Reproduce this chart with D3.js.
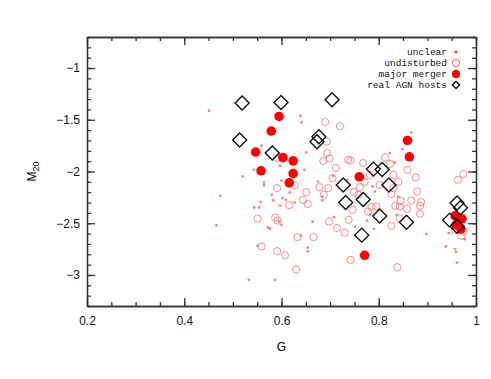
<!DOCTYPE html>
<html>
<head>
<meta charset="utf-8">
<script src="https://cdn.jsdelivr.net/npm/d3@7"></script>
<style>
  body { margin: 0; background: #fff; }
  .axis path, .axis line { stroke: #333; stroke-width: 1.3; }
  .axis text { font-family: "Liberation Sans", sans-serif; font-size: 12px; fill: #111; }
  .legend text { font-family: "Liberation Mono", monospace; font-size: 9.5px; fill: #111; }
</style>
</head>
<body>
<div id="chart"></div>
<script>
// G and M20 values

// unclear (small dots)
var unclearG = [0.451, 0.639, 0.641, 0.559, 0.651, 0.597, 0.647, 0.543, 0.520, 0.564,
  0.564, 0.600, 0.474, 0.580, 0.583, 0.597, 0.557, 0.544, 0.554, 0.609,
  0.627, 0.617, 0.602, 0.595, 0.600, 0.572, 0.576, 0.466, 0.664, 0.640,
  0.551, 0.654, 0.654, 0.533, 0.587, 0.675, 0.684, 0.735, 0.867, 0.849,
  0.706, 0.792, 0.787, 0.833, 0.751, 0.790, 0.898, 0.938, 0.957, 0.959,
  0.944, 0.776, 0.961, 0.977, 0.684, 0.708, 0.823, 0.840, 0.782, 0.837];
var unclearM20 = [-1.413, -1.461, -1.526, -1.751, -1.816, -1.945, -1.984, -1.984, -2.048, -2.106,
  -2.135, -2.087, -2.235, -2.225, -2.280, -2.329, -2.296, -2.348, -2.348, -2.274,
  -2.300, -2.203, -2.257, -2.484, -2.515, -2.542, -2.551, -2.522, -2.484, -2.619,
  -2.719, -2.735, -2.774, -3.047, -3.047, -2.097, -2.242, -2.080, -1.623, -1.783,
  -2.042, -2.193, -2.145, -1.913, -2.532, -2.554, -2.605, -2.725, -2.750, -2.779,
  -2.596, -2.474, -2.880, -2.654, -2.280, -2.441, -1.822, -2.242, -2.419, -2.419];

// undisturbed (open circles)
var undistG = [0.690, 0.720, 0.693, 0.694, 0.699, 0.686, 0.737, 0.712, 0.591, 0.591,
  0.627, 0.651, 0.678, 0.705, 0.696, 0.687, 0.644, 0.616, 0.654, 0.551,
  0.587, 0.592, 0.633, 0.666, 0.698, 0.714, 0.730, 0.559, 0.591, 0.607,
  0.630, 0.738, 0.974, 0.963, 0.742, 0.768, 0.813, 0.823, 0.859, 0.876,
  0.840, 0.782, 0.771, 0.749, 0.761, 0.758, 0.826, 0.879, 0.845, 0.867,
  0.887, 0.834, 0.843, 0.858, 0.885, 0.746, 0.785, 0.885, 0.826, 0.843,
  0.957, 0.974, 0.970, 0.742, 0.838, 0.802, 0.830, 0.830, 0.795, 0.778];
var undistM20 = [-1.522, -1.561, -1.710, -1.822, -1.874, -1.897, -1.887, -1.967, -1.870, -2.161,
  -2.135, -2.199, -2.151, -2.064, -2.161, -2.225, -2.274, -2.325, -2.315, -2.455,
  -2.445, -2.474, -2.634, -2.634, -2.484, -2.545, -2.590, -2.725, -2.770, -2.809,
  -2.948, -2.467, -2.025, -2.080, -1.894, -1.919, -1.865, -1.926, -1.984, -2.058,
  -2.100, -2.035, -2.100, -2.199, -2.151, -2.225, -2.219, -2.193, -2.283, -2.280,
  -2.296, -2.332, -2.338, -2.361, -2.332, -2.370, -2.344, -2.409, -2.525, -2.451,
  -2.564, -2.580, -2.622, -2.854, -2.925, -2.129, -2.032, -2.161, -2.338, -2.387];

// major merger (filled circles)
var mergerG = [0.595, 0.579, 0.547, 0.603, 0.624, 0.558, 0.624, 0.616, 0.859, 0.863,
  0.760, 0.771, 0.957, 0.971, 0.959, 0.969];
var mergerM20 = [-1.468, -1.609, -1.812, -1.865, -1.897, -1.993, -2.020, -2.110, -1.700, -1.858,
  -2.051, -2.810, -2.428, -2.457, -2.515, -2.556];

// real AGN hosts (diamonds)
var agnG = [0.519, 0.599, 0.704, 0.514, 0.581, 0.677, 0.673, 0.789, 0.807, 0.727,
  0.821, 0.732, 0.768, 0.802, 0.857, 0.765, 0.961, 0.968, 0.946, 0.961];
var agnM20 = [-1.338, -1.333, -1.307, -1.696, -1.822, -1.664, -1.713, -1.977, -1.980, -2.130,
  -2.130, -2.300, -2.270, -2.430, -2.490, -2.615, -2.305, -2.350, -2.470, -2.530];

var xTicks = [0.2, 0.4, 0.6, 0.8, 1];
var yTicks = [-3, -2.5, -2, -1.5, -1];
var legendLabels = ["unclear", "undisturbed", "major merger", "real AGN hosts"];

var W = 491, H = 379;
var margin = {top: 37, right: 15, bottom: 73, left: 87};
var width = W - margin.left - margin.right,
    height = H - margin.top - margin.bottom;

var svg = d3.select("#chart").append("svg")
    .attr("width", W)
    .attr("height", H)
    .append("g")
    .attr("transform", "translate(" + margin.left + "," + margin.top + ")");

var x = d3.scaleLinear().domain([0.2, 1]).range([0, width]);
var y = d3.scaleLinear().domain([-3.3, -0.7]).range([height, 0]);

var fmt = function(d) { return d3.format("")(d).replace("-", "\u2212"); };
var xMinor = d3.range(0.2, 1.001, 0.05);
var yMinor = d3.range(-3.3, -0.699, 0.1);

// minor ticks on all four sides
svg.append("g").attr("class", "axis").attr("transform", "translate(0," + height + ")")
    .call(d3.axisBottom(x).tickValues(xMinor).tickSize(-4).tickSizeOuter(0).tickFormat(""));
svg.append("g").attr("class", "axis")
    .call(d3.axisTop(x).tickValues(xMinor).tickSize(-4).tickSizeOuter(0).tickFormat(""));
svg.append("g").attr("class", "axis")
    .call(d3.axisLeft(y).tickValues(yMinor).tickSize(-4).tickSizeOuter(0).tickFormat(""));
svg.append("g").attr("class", "axis").attr("transform", "translate(" + width + ",0)")
    .call(d3.axisRight(y).tickValues(yMinor).tickSize(-4).tickSizeOuter(0).tickFormat(""));

// major ticks
svg.append("g").attr("class", "axis").attr("transform", "translate(0," + height + ")")
    .call(d3.axisBottom(x).tickValues(xTicks).tickSize(-8).tickSizeOuter(0).tickPadding(10).tickFormat(fmt));
svg.append("g").attr("class", "axis")
    .call(d3.axisTop(x).tickValues(xTicks).tickSize(-8).tickSizeOuter(0).tickFormat(""));
svg.append("g").attr("class", "axis")
    .call(d3.axisLeft(y).tickValues(yTicks).tickSize(-8).tickSizeOuter(0).tickPadding(7).tickFormat(fmt));
svg.append("g").attr("class", "axis").attr("transform", "translate(" + width + ",0)")
    .call(d3.axisRight(y).tickValues(yTicks).tickSize(-8).tickSizeOuter(0).tickFormat(""));

// axis labels
svg.append("text")
    .attr("x", x(0.6))
    .attr("y", height + 45)
    .style("text-anchor", "middle")
    .style("font-family", "Liberation Sans, sans-serif")
    .style("font-size", "12px")
    .text("G");

var yl = svg.append("text")
    .attr("transform", "translate(-51," + y(-2) + ") rotate(-90)")
    .style("text-anchor", "middle")
    .style("font-family", "Liberation Sans, sans-serif")
    .style("font-size", "12px");
yl.append("tspan").text("M");
yl.append("tspan").attr("dy", 3).style("font-size", "9px").text("20");

// data marks
var unclear = unclearG.map(function(g, i) { return {g: g, m: unclearM20[i]}; });
var undist = undistG.map(function(g, i) { return {g: g, m: undistM20[i]}; });
var merger = mergerG.map(function(g, i) { return {g: g, m: mergerM20[i]}; });
var agn = agnG.map(function(g, i) { return {g: g, m: agnM20[i]}; });

svg.append("g").selectAll("circle")
    .data(undist).enter().append("circle")
    .attr("cx", function(d) { return x(d.g); })
    .attr("cy", function(d) { return y(d.m); })
    .attr("r", 3.6)
    .style("fill", "none")
    .style("stroke", "#ff5a5a")
    .style("stroke-opacity", 0.7)
    .style("stroke-width", 1);

svg.append("g").selectAll("circle")
    .data(unclear).enter().append("circle")
    .attr("cx", function(d) { return x(d.g); })
    .attr("cy", function(d) { return y(d.m); })
    .attr("r", 1.4)
    .style("fill", "#ff6060")
    .style("fill-opacity", 0.8);

svg.append("g").selectAll("circle")
    .data(merger).enter().append("circle")
    .attr("cx", function(d) { return x(d.g); })
    .attr("cy", function(d) { return y(d.m); })
    .attr("r", 4.8)
    .style("fill", "#ff0000");

var diamond = function(cx, cy, s) {
    return "M" + cx + "," + (cy - s) + "L" + (cx + s) + "," + cy + "L" + cx + "," + (cy + s) + "L" + (cx - s) + "," + cy + "Z";
};

svg.append("g").selectAll("path")
    .data(agn).enter().append("path")
    .attr("d", function(d) { return diamond(x(d.g), y(d.m), 7); })
    .style("fill", "none")
    .style("stroke", "#111")
    .style("stroke-width", 1.4);

// legend
var legend = svg.append("g").attr("class", "legend");
legendLabels.forEach(function(lab, i) {
    var ly = 15 + i * 11;
    legend.append("text")
        .attr("x", 360)
        .attr("y", ly + 3.3)
        .style("text-anchor", "end")
        .text(lab);
    var sx = 369;
    if (i == 0) {
        legend.append("circle").attr("cx", sx).attr("cy", ly).attr("r", 1.6).style("fill", "#ff4040");
    } else if (i == 1) {
        legend.append("circle").attr("cx", sx).attr("cy", ly).attr("r", 3.6)
            .style("fill", "none").style("stroke", "#ff5a5a").style("stroke-width", 1);
    } else if (i == 2) {
        legend.append("circle").attr("cx", sx).attr("cy", ly).attr("r", 4.2).style("fill", "#ff0000");
    } else {
        legend.append("path").attr("d", diamond(sx, ly, 3.6))
            .style("fill", "none").style("stroke", "#111").style("stroke-width", 1.4);
    }
});
</script>
</body>
</html>
